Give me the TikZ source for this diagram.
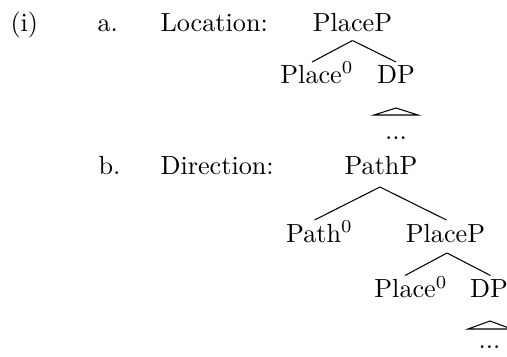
\documentclass[tikz,border=0pt]{standalone}
\usetikzlibrary{calc}
\tikzset{
  lbl/.style={inner sep=0pt, anchor=base west},
  cat/.style={inner sep=0pt, anchor=base},
  edge/.style={line width=0.4pt},
  tri/.style={line width=0.4pt}
}
\begin{document}
\begin{tikzpicture}[x=0.3817pt,y=-0.3817pt]
\useasboundingbox (0,0) rectangle (507,356);
% row a
\node[lbl] (ex) at (10,31) {(i)};
\node[lbl] (a) at (97,31) {a.};
\node[lbl] (loc) at (160,31) {Location:};
\node[cat] (pp1) at (352.5,31) {PlaceP};
\node[cat] (pl1) at (317,83) {Place$^0$};
\node[cat] (dp1) at (396,83) {DP};
\node[cat] (dots1) at (396,139) {...};
\draw[edge] ($(pp1.base)+(0,9.5)$) -- ($(pl1.base)+(-5,-21)$);
\draw[edge] ($(pp1.base)+(0,9.5)$) -- ($(dp1.base)+(0,-21)$);
\draw[tri] ($(dp1.base)+(0,25)$) -- ($(dots1.base)+(-22,-24)$) -- ($(dots1.base)+(22,-24)$) -- cycle;
% row b
\node[lbl] (b) at (98,174) {b.};
\node[lbl] (dir) at (160,174) {Direction:};
\node[cat] (path) at (381,174) {PathP};
\node[cat] (pa0) at (319.5,242) {Path$^0$};
\node[cat] (pp2) at (445.5,242) {PlaceP};
\node[cat] (pl2) at (411,297.5) {Place$^0$};
\node[cat] (dp2) at (489,297.5) {DP};
\node[cat] (dots2) at (489.5,348.5) {...};
\draw[edge] ($(path.base)+(-1,13)$) -- ($(pa0.base)+(-5,-22)$);
\draw[edge] ($(path.base)+(-1,13)$) -- ($(pp2.base)+(1,-22)$);
\draw[edge] ($(pp2.base)+(1.5,11)$) -- ($(pl2.base)+(-6,-22)$);
\draw[edge] ($(pp2.base)+(1.5,11)$) -- ($(dp2.base)+(1.5,-22)$);
\draw[tri] ($(dp2.base)+(1,23.5)$) -- ($(dots2.base)+(-21.5,-19.5)$) -- ($(dots2.base)+(22,-19.5)$) -- cycle;
\end{tikzpicture}
\end{document}
